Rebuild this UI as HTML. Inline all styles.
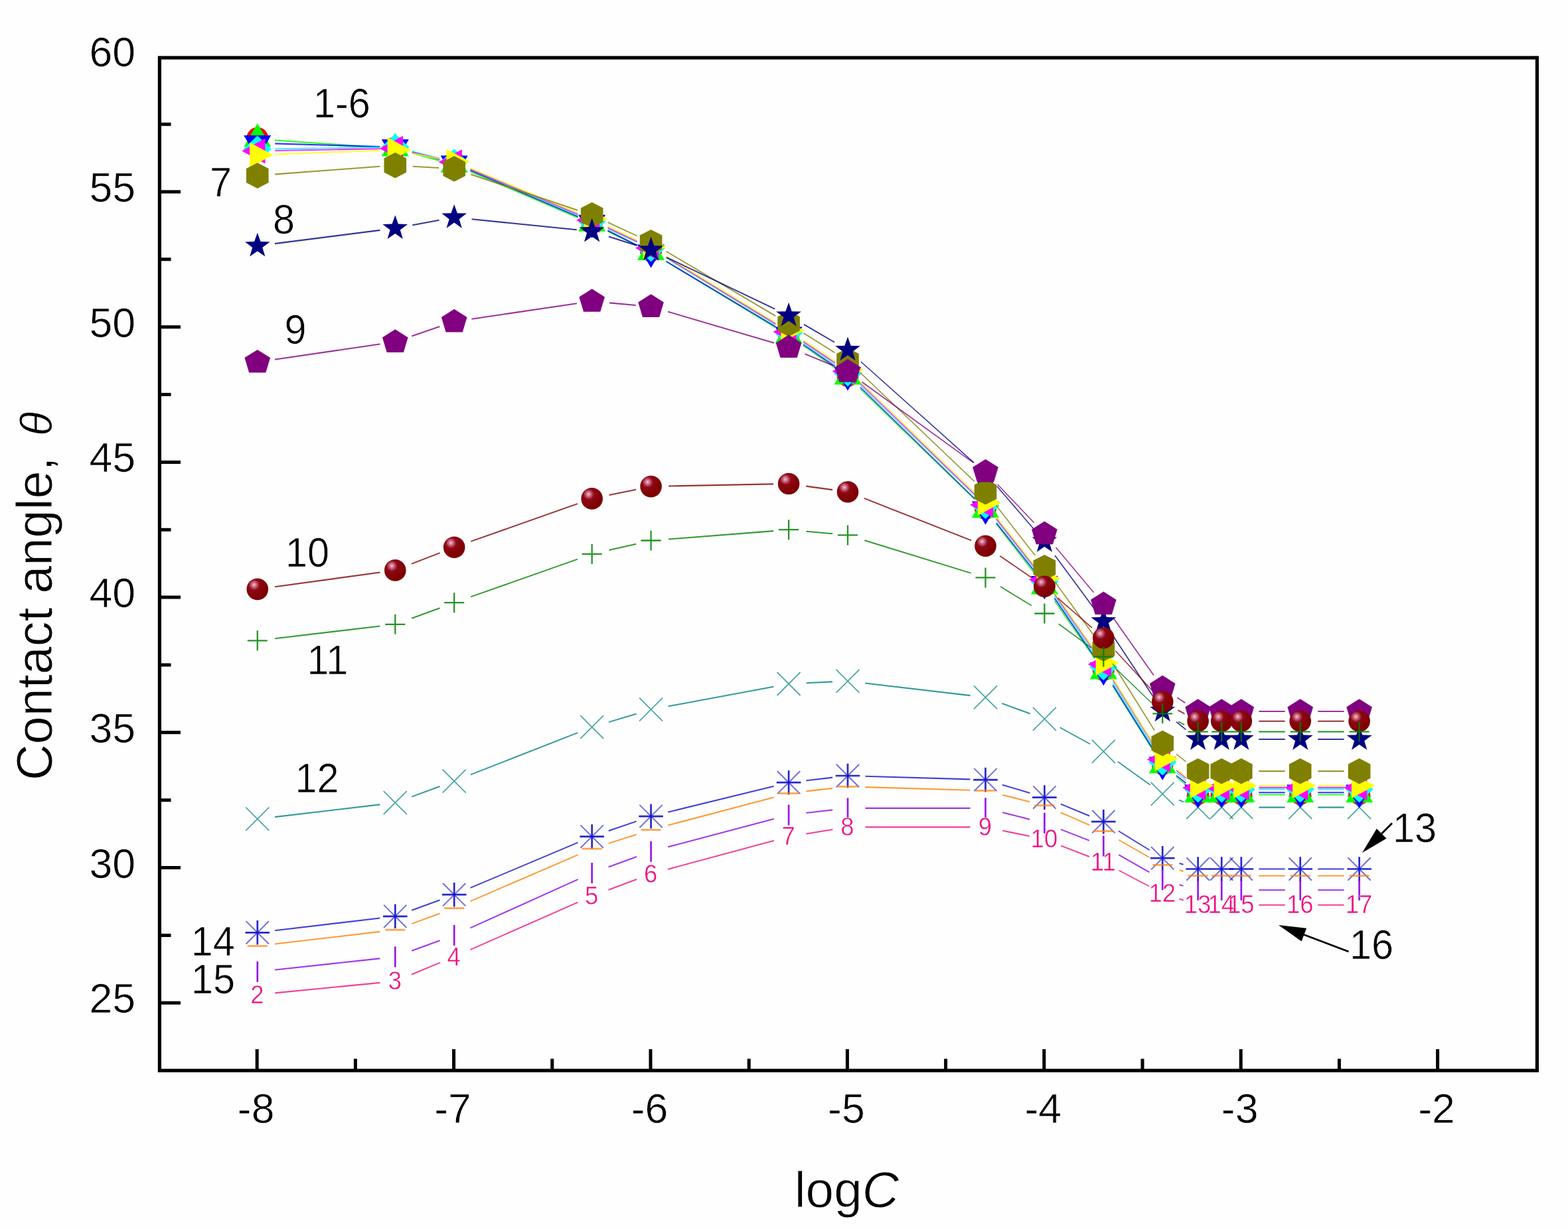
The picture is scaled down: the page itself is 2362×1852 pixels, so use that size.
<!DOCTYPE html>
<html lang="en"><head><meta charset="utf-8"><title>Contact angle vs logC</title>
<style>html,body{margin:0;padding:0;background:#fefefe}body{width:2362px;height:1852px;overflow:hidden}svg{display:block;filter:blur(0.6px)}text{font-family:"Liberation Sans",sans-serif}</style></head><body>
<svg width="2362" height="1852" viewBox="0 0 2362 1852">
<defs><radialGradient id="sg" cx="0.36" cy="0.31" r="0.6" fx="0.34" fy="0.29"><stop offset="0" stop-color="#f4c4d8"/><stop offset="0.2" stop-color="#c8607c"/><stop offset="0.42" stop-color="#8c0814"/><stop offset="1" stop-color="#7e0000"/></radialGradient></defs>
<rect width="2362" height="1852" fill="#fefefe"/>
<g id="axes" stroke="#000" fill="none">
<rect x="240.4" y="87.0" width="2075.0" height="1526.2" stroke-width="5.2"/>
<path d="M240.4,1511.2H272M240.4,1409.4H257.5M240.4,1307.5H272M240.4,1205.7H257.5M240.4,1103.8H272M240.4,1002.0H257.5M240.4,900.1H272M240.4,798.2H257.5M240.4,696.4H272M240.4,594.5H257.5M240.4,492.7H272M240.4,390.8H257.5M240.4,289.0H272M240.4,187.2H257.5M387.2,1613.2V1581M535.4,1613.2V1595.5M683.6,1613.2V1581M831.8,1613.2V1595.5M980.0,1613.2V1581M1128.2,1613.2V1595.5M1276.4,1613.2V1581M1424.6,1613.2V1595.5M1572.8,1613.2V1581M1721.0,1613.2V1595.5M1869.2,1613.2V1581M2017.4,1613.2V1595.5M2165.6,1613.2V1581" stroke-width="5"/>
</g>
<g id="ticklabels" font-size="62.6" stroke="#fefefe" stroke-width="0.7">
<text x="204" y="1526.2" text-anchor="end">25</text>
<text x="204" y="1322.5" text-anchor="end">30</text>
<text x="204" y="1118.8" text-anchor="end">35</text>
<text x="204" y="915.1" text-anchor="end">40</text>
<text x="204" y="711.4" text-anchor="end">45</text>
<text x="204" y="507.7" text-anchor="end">50</text>
<text x="204" y="304.0" text-anchor="end">55</text>
<text x="204" y="100.3" text-anchor="end">60</text>
<text x="385.7" y="1692" text-anchor="middle">-8</text>
<text x="682.1" y="1692" text-anchor="middle">-7</text>
<text x="978.5" y="1692" text-anchor="middle">-6</text>
<text x="1274.9" y="1692" text-anchor="middle">-5</text>
<text x="1571.3" y="1692" text-anchor="middle">-4</text>
<text x="1867.7" y="1692" text-anchor="middle">-3</text>
<text x="2164.1" y="1692" text-anchor="middle">-2</text>
</g>
<text id="xtitle" x="1275.3" y="1818.5" text-anchor="middle" font-size="76.5" stroke="#fefefe" stroke-width="0.9">log<tspan font-style="italic">C</tspan></text>
<text id="ytitle" transform="translate(77.5,1176) rotate(-90)" font-size="75.6" stroke="#fefefe" stroke-width="0.9">Contact angle, <tspan font-style="italic" font-size="67" dx="10.5">θ</tspan></text>
<g id="series">
<g id="s-x">
<g stroke="#008080" stroke-opacity="0.8" fill="none"><path d="M414.1,1231.1L572.4,1212.4" stroke-width="2.09"/><path d="M620.2,1200.6L662.6,1185.0" stroke-width="1.97"/><path d="M708.9,1167.4L870.3,1104.1" stroke-width="1.95"/><path d="M917.1,1088.1L958.6,1075.7" stroke-width="2.01"/><path d="M1006.7,1064.3L1165.5,1034.7" stroke-width="2.06"/><path d="M1214.6,1029.3L1254.0,1027.4" stroke-width="2.10"/><path d="M1303.3,1029.5L1461.6,1048.1" stroke-width="2.09"/><path d="M1509.4,1060.0L1551.8,1075.5" stroke-width="1.97"/><path d="M1596.6,1096.2L1642.2,1121.2" stroke-width="1.84"/><path d="M1683.8,1147.8L1732.6,1182.8" stroke-width="1.70"/><path d="M1776.0,1205.7L1783.1,1208.4" stroke-width="1.96"/><path d="M1896.3,1216.6L1935.7,1216.6" stroke-width="2.10"/><path d="M1985.2,1216.6L2024.6,1216.6" stroke-width="2.10"/></g>
<path d="M370.3,1216.7L405.3,1251.7M370.3,1251.7L405.3,1216.7" stroke="#008080" stroke-width="1.8" stroke-opacity="0.7" fill="none"/>
<path d="M577.8,1192.2L612.8,1227.2M577.8,1227.2L612.8,1192.2" stroke="#008080" stroke-width="1.8" stroke-opacity="0.7" fill="none"/>
<path d="M666.7,1159.6L701.7,1194.6M666.7,1194.6L701.7,1159.6" stroke="#008080" stroke-width="1.8" stroke-opacity="0.7" fill="none"/>
<path d="M874.2,1078.2L909.2,1113.2M874.2,1113.2L909.2,1078.2" stroke="#008080" stroke-width="1.8" stroke-opacity="0.7" fill="none"/>
<path d="M963.1,1051.7L998.1,1086.7M963.1,1086.7L998.1,1051.7" stroke="#008080" stroke-width="1.8" stroke-opacity="0.7" fill="none"/>
<path d="M1170.6,1013.0L1205.6,1048.0M1170.6,1048.0L1205.6,1013.0" stroke="#008080" stroke-width="1.8" stroke-opacity="0.7" fill="none"/>
<path d="M1259.5,1008.9L1294.5,1043.9M1259.5,1043.9L1294.5,1008.9" stroke="#008080" stroke-width="1.8" stroke-opacity="0.7" fill="none"/>
<path d="M1467.0,1033.3L1502.0,1068.3M1467.0,1068.3L1502.0,1033.3" stroke="#008080" stroke-width="1.8" stroke-opacity="0.7" fill="none"/>
<path d="M1555.9,1065.9L1590.9,1100.9M1555.9,1100.9L1590.9,1065.9" stroke="#008080" stroke-width="1.8" stroke-opacity="0.7" fill="none"/>
<path d="M1644.8,1114.8L1679.8,1149.8M1644.8,1149.8L1679.8,1114.8" stroke="#008080" stroke-width="1.8" stroke-opacity="0.7" fill="none"/>
<path d="M1733.7,1178.8L1768.7,1213.8M1733.7,1213.8L1768.7,1178.8" stroke="#008080" stroke-width="1.8" stroke-opacity="0.7" fill="none"/>
<path d="M1787.1,1199.1L1822.1,1234.1M1787.1,1234.1L1822.1,1199.1" stroke="#008080" stroke-width="1.8" stroke-opacity="0.7" fill="none"/>
<path d="M1822.7,1199.1L1857.7,1234.1M1822.7,1234.1L1857.7,1199.1" stroke="#008080" stroke-width="1.8" stroke-opacity="0.7" fill="none"/>
<path d="M1852.3,1199.1L1887.3,1234.1M1852.3,1234.1L1887.3,1199.1" stroke="#008080" stroke-width="1.8" stroke-opacity="0.7" fill="none"/>
<path d="M1941.2,1199.1L1976.2,1234.1M1941.2,1234.1L1976.2,1199.1" stroke="#008080" stroke-width="1.8" stroke-opacity="0.7" fill="none"/>
<path d="M2030.1,1199.1L2065.1,1234.1M2030.1,1234.1L2065.1,1199.1" stroke="#008080" stroke-width="1.8" stroke-opacity="0.7" fill="none"/>
</g>
<g id="s-red">
<circle cx="387.8" cy="208.3" r="16.5" fill="#ff0000"/>
<circle cx="595.3" cy="222.6" r="16.5" fill="#ff0000"/>
<circle cx="684.2" cy="245.0" r="16.5" fill="#ff0000"/>
<circle cx="891.7" cy="334.6" r="16.5" fill="#ff0000"/>
<circle cx="980.6" cy="378.2" r="16.5" fill="#ff0000"/>
<circle cx="1188.1" cy="502.9" r="16.5" fill="#ff0000"/>
<circle cx="1277.0" cy="566.4" r="16.5" fill="#ff0000"/>
<circle cx="1484.5" cy="766.5" r="16.5" fill="#ff0000"/>
<circle cx="1573.4" cy="881.8" r="16.5" fill="#ff0000"/>
<circle cx="1662.3" cy="1009.7" r="16.5" fill="#ff0000"/>
<circle cx="1751.2" cy="1151.5" r="16.5" fill="#ff0000"/>
<circle cx="1804.6" cy="1196.3" r="16.5" fill="#ff0000"/>
<circle cx="1840.2" cy="1196.3" r="16.5" fill="#ff0000"/>
<circle cx="1869.8" cy="1196.3" r="16.5" fill="#ff0000"/>
<circle cx="1958.7" cy="1196.3" r="16.5" fill="#ff0000"/>
<circle cx="2047.6" cy="1196.3" r="16.5" fill="#ff0000"/>
</g>
<g id="s-green">
<g stroke="#00ff00" stroke-opacity="0.8" fill="none"><path d="M414.2,211.4L572.3,222.2" stroke-width="2.10"/><path d="M620.8,230.8L662.0,242.2" stroke-width="2.02"/><path d="M708.6,258.7L870.5,328.0" stroke-width="1.93"/><path d="M915.5,348.7L959.9,370.2" stroke-width="1.89"/><path d="M1003.3,394.0L1168.4,493.8" stroke-width="1.80"/><path d="M1209.8,520.9L1258.1,554.5" stroke-width="1.72"/><path d="M1296.0,586.1L1468.0,752.5" stroke-width="1.51"/><path d="M1500.7,789.5L1559.4,865.6" stroke-width="1.66"/><path d="M1588.5,905.6L1649.2,992.8" stroke-width="1.72"/><path d="M1676.4,1034.2L1739.0,1134.0" stroke-width="1.78"/><path d="M1771.7,1170.4L1786.8,1182.9" stroke-width="1.62"/><path d="M1896.3,1197.5L1935.7,1197.5" stroke-width="2.10"/><path d="M1985.2,1197.5L2024.6,1197.5" stroke-width="2.10"/></g>
<polygon points="387.8,186.1 408.3,221.3 367.3,221.3" fill="#00ff00"/>
<polygon points="595.3,200.3 615.8,235.5 574.8,235.5" fill="#00ff00"/>
<polygon points="684.2,224.8 704.7,260.0 663.7,260.0" fill="#00ff00"/>
<polygon points="891.7,313.6 912.2,348.8 871.2,348.8" fill="#00ff00"/>
<polygon points="980.6,356.8 1001.1,392.0 960.1,392.0" fill="#00ff00"/>
<polygon points="1188.1,482.2 1208.6,517.4 1167.6,517.4" fill="#00ff00"/>
<polygon points="1277.0,544.2 1297.5,579.4 1256.5,579.4" fill="#00ff00"/>
<polygon points="1484.5,745.0 1505.0,780.2 1464.0,780.2" fill="#00ff00"/>
<polygon points="1573.4,860.3 1593.9,895.5 1552.9,895.5" fill="#00ff00"/>
<polygon points="1662.3,988.2 1682.8,1023.4 1641.8,1023.4" fill="#00ff00"/>
<polygon points="1751.2,1130.0 1771.7,1165.2 1730.7,1165.2" fill="#00ff00"/>
<polygon points="1804.6,1174.0 1825.1,1209.2 1784.1,1209.2" fill="#00ff00"/>
<polygon points="1840.2,1174.0 1860.7,1209.2 1819.7,1209.2" fill="#00ff00"/>
<polygon points="1869.8,1174.0 1890.3,1209.2 1849.3,1209.2" fill="#00ff00"/>
<polygon points="1958.7,1174.0 1979.2,1209.2 1938.2,1209.2" fill="#00ff00"/>
<polygon points="2047.6,1174.0 2068.1,1209.2 2027.1,1209.2" fill="#00ff00"/>
</g>
<g id="s-blue">
<g stroke="#0000ff" stroke-opacity="0.8" fill="none"><path d="M414.3,216.4L572.3,221.1" stroke-width="2.10"/><path d="M620.8,228.8L662.0,240.1" stroke-width="2.02"/><path d="M708.5,256.7L870.6,326.4" stroke-width="1.93"/><path d="M915.3,347.4L960.1,369.9" stroke-width="1.88"/><path d="M1003.4,393.8L1168.3,492.3" stroke-width="1.80"/><path d="M1209.9,519.1L1258.0,552.2" stroke-width="1.73"/><path d="M1296.0,583.7L1468.0,751.2" stroke-width="1.50"/><path d="M1500.9,788.1L1559.1,861.7" stroke-width="1.65"/><path d="M1588.4,901.6L1649.3,990.7" stroke-width="1.73"/><path d="M1676.3,1032.2L1739.1,1132.8" stroke-width="1.78"/><path d="M1772.1,1168.7L1786.5,1180.0" stroke-width="1.65"/><path d="M1896.3,1194.2L1935.7,1194.2" stroke-width="2.10"/><path d="M1985.2,1194.2L2024.6,1194.2" stroke-width="2.10"/></g>
<polygon points="387.8,239.2 408.3,204.0 367.3,204.0" fill="#0000ff"/>
<polygon points="595.3,245.3 615.8,210.1 574.8,210.1" fill="#0000ff"/>
<polygon points="684.2,269.7 704.7,234.5 663.7,234.5" fill="#0000ff"/>
<polygon points="891.7,358.9 912.2,323.7 871.2,323.7" fill="#0000ff"/>
<polygon points="980.6,403.8 1001.1,368.6 960.1,368.6" fill="#0000ff"/>
<polygon points="1188.1,527.6 1208.6,492.4 1167.6,492.4" fill="#0000ff"/>
<polygon points="1277.0,588.7 1297.5,553.5 1256.5,553.5" fill="#0000ff"/>
<polygon points="1484.5,790.8 1505.0,755.6 1464.0,755.6" fill="#0000ff"/>
<polygon points="1573.4,903.2 1593.9,868.0 1552.9,868.0" fill="#0000ff"/>
<polygon points="1662.3,1033.2 1682.8,998.0 1641.8,998.0" fill="#0000ff"/>
<polygon points="1751.2,1175.8 1771.7,1140.6 1730.7,1140.6" fill="#0000ff"/>
<polygon points="1804.6,1217.7 1825.1,1182.5 1784.1,1182.5" fill="#0000ff"/>
<polygon points="1840.2,1217.7 1860.7,1182.5 1819.7,1182.5" fill="#0000ff"/>
<polygon points="1869.8,1217.7 1890.3,1182.5 1849.3,1182.5" fill="#0000ff"/>
<polygon points="1958.7,1217.7 1979.2,1182.5 1938.2,1182.5" fill="#0000ff"/>
<polygon points="2047.6,1217.7 2068.1,1182.5 2027.1,1182.5" fill="#0000ff"/>
</g>
<g id="s-cyan">
<g stroke="#00ffff" stroke-opacity="0.8" fill="none"><path d="M414.3,224.3L572.3,222.1" stroke-width="2.10"/><path d="M621.0,228.3L661.9,238.6" stroke-width="2.04"/><path d="M708.5,254.7L870.6,324.7" stroke-width="1.93"/><path d="M915.8,344.9L959.7,365.0" stroke-width="1.91"/><path d="M1003.2,388.4L1168.5,489.6" stroke-width="1.79"/><path d="M1210.0,516.6L1258.0,549.4" stroke-width="1.73"/><path d="M1296.1,580.7L1467.9,746.0" stroke-width="1.51"/><path d="M1500.7,782.9L1559.3,858.3" stroke-width="1.66"/><path d="M1588.5,898.3L1649.2,986.3" stroke-width="1.73"/><path d="M1676.3,1027.7L1739.1,1129.1" stroke-width="1.78"/><path d="M1772.3,1164.7L1786.3,1175.4" stroke-width="1.67"/><path d="M1896.3,1189.4L1935.7,1189.4" stroke-width="2.10"/><path d="M1985.2,1189.4L2024.6,1189.4" stroke-width="2.10"/></g>
<polygon points="387.8,204.6 408.8,224.6 387.8,244.6 366.8,224.6" fill="#00ffff"/>
<polygon points="595.3,201.8 616.3,221.8 595.3,241.8 574.3,221.8" fill="#00ffff"/>
<polygon points="684.2,224.2 705.2,244.2 684.2,264.2 663.2,244.2" fill="#00ffff"/>
<polygon points="891.7,313.8 912.7,333.8 891.7,353.8 870.7,333.8" fill="#00ffff"/>
<polygon points="980.6,354.6 1001.6,374.6 980.6,394.6 959.6,374.6" fill="#00ffff"/>
<polygon points="1188.1,481.7 1209.1,501.7 1188.1,521.7 1167.1,501.7" fill="#00ffff"/>
<polygon points="1277.0,542.4 1298.0,562.4 1277.0,582.4 1256.0,562.4" fill="#00ffff"/>
<polygon points="1484.5,742.0 1505.5,762.0 1484.5,782.0 1463.5,762.0" fill="#00ffff"/>
<polygon points="1573.4,856.5 1594.4,876.5 1573.4,896.5 1552.4,876.5" fill="#00ffff"/>
<polygon points="1662.3,985.2 1683.3,1005.2 1662.3,1025.2 1641.3,1005.2" fill="#00ffff"/>
<polygon points="1751.2,1128.6 1772.2,1148.6 1751.2,1168.6 1730.2,1148.6" fill="#00ffff"/>
<polygon points="1804.6,1169.4 1825.6,1189.4 1804.6,1209.4 1783.6,1189.4" fill="#00ffff"/>
<polygon points="1840.2,1169.4 1861.2,1189.4 1840.2,1209.4 1819.2,1189.4" fill="#00ffff"/>
<polygon points="1869.8,1169.4 1890.8,1189.4 1869.8,1209.4 1848.8,1189.4" fill="#00ffff"/>
<polygon points="1958.7,1169.4 1979.7,1189.4 1958.7,1209.4 1937.7,1189.4" fill="#00ffff"/>
<polygon points="2047.6,1169.4 2068.6,1189.4 2047.6,1209.4 2026.6,1189.4" fill="#00ffff"/>
</g>
<g id="s-magenta">
<g stroke="#ff00ff" stroke-opacity="0.8" fill="none"><path d="M414.3,227.0L572.3,224.2" stroke-width="2.10"/><path d="M621.1,229.7L661.8,239.1" stroke-width="2.05"/><path d="M708.6,254.5L870.5,322.8" stroke-width="1.93"/><path d="M915.6,343.1L959.8,363.9" stroke-width="1.90"/><path d="M1003.2,387.5L1168.4,488.1" stroke-width="1.79"/><path d="M1210.1,514.8L1257.9,546.7" stroke-width="1.75"/><path d="M1296.0,578.0L1468.0,744.8" stroke-width="1.51"/><path d="M1500.9,781.6L1559.2,855.6" stroke-width="1.65"/><path d="M1588.6,895.4L1649.2,982.3" stroke-width="1.72"/><path d="M1676.3,1023.7L1739.1,1125.0" stroke-width="1.78"/><path d="M1772.0,1161.0L1786.6,1172.6" stroke-width="1.64"/><path d="M1896.3,1186.9L1935.7,1186.9" stroke-width="2.10"/><path d="M1985.2,1186.9L2024.6,1186.9" stroke-width="2.10"/></g>
<polygon points="364.3,227.5 399.5,208.5 399.5,246.5" fill="#ff00ff"/>
<polygon points="571.8,223.8 607.0,204.8 607.0,242.8" fill="#ff00ff"/>
<polygon points="660.7,244.2 695.9,225.2 695.9,263.2" fill="#ff00ff"/>
<polygon points="868.2,331.8 903.4,312.8 903.4,350.8" fill="#ff00ff"/>
<polygon points="957.1,373.7 992.3,354.7 992.3,392.7" fill="#ff00ff"/>
<polygon points="1164.6,500.0 1199.8,481.0 1199.8,519.0" fill="#ff00ff"/>
<polygon points="1253.5,559.5 1288.7,540.5 1288.7,578.5" fill="#ff00ff"/>
<polygon points="1461.0,760.8 1496.2,741.8 1496.2,779.8" fill="#ff00ff"/>
<polygon points="1549.9,873.6 1585.1,854.6 1585.1,892.6" fill="#ff00ff"/>
<polygon points="1638.8,1001.1 1674.0,982.1 1674.0,1020.1" fill="#ff00ff"/>
<polygon points="1727.7,1144.5 1762.9,1125.5 1762.9,1163.5" fill="#ff00ff"/>
<polygon points="1781.1,1186.9 1816.3,1167.9 1816.3,1205.9" fill="#ff00ff"/>
<polygon points="1816.7,1186.9 1851.9,1167.9 1851.9,1205.9" fill="#ff00ff"/>
<polygon points="1846.3,1186.9 1881.5,1167.9 1881.5,1205.9" fill="#ff00ff"/>
<polygon points="1935.2,1186.9 1970.4,1167.9 1970.4,1205.9" fill="#ff00ff"/>
<polygon points="2024.1,1186.9 2059.3,1167.9 2059.3,1205.9" fill="#ff00ff"/>
</g>
<g id="s-yellow">
<g stroke="#ffff00" stroke-opacity="0.8" fill="none"><path d="M414.3,232.6L572.3,226.7" stroke-width="2.10"/><path d="M621.3,231.0L661.6,238.9" stroke-width="2.06"/><path d="M708.7,253.6L870.4,320.9" stroke-width="1.94"/><path d="M915.6,341.1L959.8,362.2" stroke-width="1.90"/><path d="M1003.3,385.9L1168.4,486.1" stroke-width="1.80"/><path d="M1210.2,512.7L1257.8,544.3" stroke-width="1.75"/><path d="M1296.0,575.5L1468.0,741.9" stroke-width="1.51"/><path d="M1500.8,778.8L1559.2,853.5" stroke-width="1.65"/><path d="M1588.6,893.3L1649.2,980.2" stroke-width="1.72"/><path d="M1676.2,1021.7L1739.2,1123.7" stroke-width="1.79"/><path d="M1772.3,1159.4L1786.3,1170.1" stroke-width="1.67"/><path d="M1896.3,1184.1L1935.7,1184.1" stroke-width="2.10"/><path d="M1985.2,1184.1L2024.6,1184.1" stroke-width="2.10"/></g>
<polygon points="411.3,233.6 376.1,214.6 376.1,252.6" fill="#ffff00"/>
<polygon points="618.8,225.9 583.6,206.9 583.6,244.9" fill="#ffff00"/>
<polygon points="707.7,243.4 672.5,224.4 672.5,262.4" fill="#ffff00"/>
<polygon points="915.2,329.7 880.0,310.7 880.0,348.7" fill="#ffff00"/>
<polygon points="1004.1,372.1 968.9,353.1 968.9,391.1" fill="#ffff00"/>
<polygon points="1211.6,498.0 1176.4,479.0 1176.4,517.0" fill="#ffff00"/>
<polygon points="1300.5,557.1 1265.3,538.1 1265.3,576.1" fill="#ffff00"/>
<polygon points="1508.0,757.9 1472.8,738.9 1472.8,776.9" fill="#ffff00"/>
<polygon points="1596.9,871.6 1561.7,852.6 1561.7,890.6" fill="#ffff00"/>
<polygon points="1685.8,999.1 1650.6,980.1 1650.6,1018.1" fill="#ffff00"/>
<polygon points="1774.7,1143.3 1739.5,1124.3 1739.5,1162.3" fill="#ffff00"/>
<polygon points="1828.1,1184.1 1792.9,1165.1 1792.9,1203.1" fill="#ffff00"/>
<polygon points="1863.7,1184.1 1828.5,1165.1 1828.5,1203.1" fill="#ffff00"/>
<polygon points="1893.3,1184.1 1858.1,1165.1 1858.1,1203.1" fill="#ffff00"/>
<polygon points="1982.2,1184.1 1947.0,1165.1 1947.0,1203.1" fill="#ffff00"/>
<polygon points="2071.1,1184.1 2035.9,1165.1 2035.9,1203.1" fill="#ffff00"/>
</g>
<g id="s-hex">
<g stroke="#808000" stroke-opacity="0.8" fill="none"><path d="M414.2,262.6L572.3,250.8" stroke-width="2.09"/><path d="M621.7,250.7L661.2,253.0" stroke-width="2.10"/><path d="M709.3,262.8L869.9,316.7" stroke-width="1.99"/><path d="M915.7,335.2L959.7,355.5" stroke-width="1.91"/><path d="M1003.4,378.7L1168.3,476.1" stroke-width="1.81"/><path d="M1210.5,501.9L1257.5,531.4" stroke-width="1.78"/><path d="M1296.2,561.9L1467.8,725.4" stroke-width="1.52"/><path d="M1500.8,762.1L1559.3,837.1" stroke-width="1.66"/><path d="M1589.0,876.7L1648.8,958.9" stroke-width="1.70"/><path d="M1676.3,1000.0L1739.1,1100.6" stroke-width="1.78"/><path d="M1772.1,1136.5L1786.5,1147.8" stroke-width="1.65"/><path d="M1896.3,1162.1L1935.7,1162.1" stroke-width="2.10"/><path d="M1985.2,1162.1L2024.6,1162.1" stroke-width="2.10"/></g>
<polygon points="387.8,245.3 404.6,253.9 404.6,275.2 387.8,283.9 371.0,275.2 371.0,253.9" fill="#808000"/>
<polygon points="595.3,229.8 612.1,238.4 612.1,259.7 595.3,268.4 578.5,259.7 578.5,238.4" fill="#808000"/>
<polygon points="684.2,235.1 701.0,243.7 701.0,265.0 684.2,273.7 667.4,265.0 667.4,243.7" fill="#808000"/>
<polygon points="891.7,304.7 908.5,313.4 908.5,334.7 891.7,343.3 874.9,334.7 874.9,313.4" fill="#808000"/>
<polygon points="980.6,345.9 997.4,354.5 997.4,375.8 980.6,384.5 963.8,375.8 963.8,354.5" fill="#808000"/>
<polygon points="1188.1,468.5 1204.9,477.2 1204.9,498.5 1188.1,507.1 1171.3,498.5 1171.3,477.2" fill="#808000"/>
<polygon points="1277.0,524.3 1293.8,533.0 1293.8,554.3 1277.0,562.9 1260.2,554.3 1260.2,533.0" fill="#808000"/>
<polygon points="1484.5,721.9 1501.3,730.6 1501.3,751.9 1484.5,760.5 1467.7,751.9 1467.7,730.6" fill="#808000"/>
<polygon points="1573.4,836.0 1590.2,844.6 1590.2,865.9 1573.4,874.6 1556.6,865.9 1556.6,844.6" fill="#808000"/>
<polygon points="1662.3,958.2 1679.1,966.9 1679.1,988.2 1662.3,996.8 1645.5,988.2 1645.5,966.9" fill="#808000"/>
<polygon points="1751.2,1100.8 1768.0,1109.4 1768.0,1130.7 1751.2,1139.4 1734.4,1130.7 1734.4,1109.4" fill="#808000"/>
<polygon points="1804.6,1142.8 1821.4,1151.4 1821.4,1172.7 1804.6,1181.4 1787.8,1172.7 1787.8,1151.4" fill="#808000"/>
<polygon points="1840.2,1142.8 1857.0,1151.4 1857.0,1172.7 1840.2,1181.4 1823.4,1172.7 1823.4,1151.4" fill="#808000"/>
<polygon points="1869.8,1142.8 1886.6,1151.4 1886.6,1172.7 1869.8,1181.4 1853.0,1172.7 1853.0,1151.4" fill="#808000"/>
<polygon points="1958.7,1142.8 1975.5,1151.4 1975.5,1172.7 1958.7,1181.4 1941.9,1172.7 1941.9,1151.4" fill="#808000"/>
<polygon points="2047.6,1142.8 2064.4,1151.4 2064.4,1172.7 2047.6,1181.4 2030.8,1172.7 2030.8,1151.4" fill="#808000"/>
</g>
<g id="s-star">
<g stroke="#000080" stroke-opacity="0.8" fill="none"><path d="M414.1,367.1L572.5,346.9" stroke-width="2.08"/><path d="M621.3,339.2L661.6,331.8" stroke-width="2.07"/><path d="M710.6,330.3L868.8,346.2" stroke-width="2.09"/><path d="M916.9,356.5L958.7,369.7" stroke-width="2.00"/><path d="M1004.5,388.0L1167.3,465.7" stroke-width="1.90"/><path d="M1211.0,488.9L1257.1,515.8" stroke-width="1.82"/><path d="M1296.8,545.0L1467.3,697.4" stroke-width="1.57"/><path d="M1501.8,732.8L1558.4,798.4" stroke-width="1.59"/><path d="M1589.1,837.1L1648.7,917.8" stroke-width="1.69"/><path d="M1676.9,958.5L1738.6,1052.0" stroke-width="1.75"/><path d="M1771.9,1087.8L1786.6,1099.6" stroke-width="1.64"/><path d="M1896.3,1114.0L1935.7,1114.0" stroke-width="2.10"/><path d="M1985.2,1114.0L2024.6,1114.0" stroke-width="2.10"/></g>
<polygon points="387.8,350.7 392.5,364.1 406.6,364.4 395.3,372.9 399.4,386.5 387.8,378.4 376.2,386.5 380.3,372.9 369.0,364.4 383.1,364.1" fill="#000080"/>
<polygon points="595.3,324.2 599.9,337.6 614.1,337.9 602.8,346.4 606.9,360.0 595.3,351.9 583.6,360.0 587.7,346.4 576.4,337.9 590.6,337.6" fill="#000080"/>
<polygon points="684.2,307.9 688.9,321.3 703.0,321.6 691.7,330.2 695.8,343.7 684.2,335.6 672.6,343.7 676.7,330.2 665.4,321.6 679.5,321.3" fill="#000080"/>
<polygon points="891.7,328.7 896.3,342.1 910.5,342.4 899.2,350.9 903.3,364.5 891.7,356.4 880.0,364.5 884.1,350.9 872.8,342.4 887.0,342.1" fill="#000080"/>
<polygon points="980.6,356.8 985.3,370.2 999.4,370.5 988.1,379.0 992.2,392.6 980.6,384.5 969.0,392.6 973.1,379.0 961.8,370.5 975.9,370.2" fill="#000080"/>
<polygon points="1188.1,455.8 1192.7,469.2 1206.9,469.5 1195.6,478.0 1199.7,491.6 1188.1,483.5 1176.4,491.6 1180.5,478.0 1169.2,469.5 1183.4,469.2" fill="#000080"/>
<polygon points="1277.0,507.5 1281.7,520.9 1295.8,521.2 1284.5,529.8 1288.6,543.3 1277.0,535.2 1265.4,543.3 1269.5,529.8 1258.2,521.2 1272.3,520.9" fill="#000080"/>
<polygon points="1484.5,692.9 1489.1,706.3 1503.3,706.6 1492.0,715.1 1496.1,728.7 1484.5,720.6 1472.8,728.7 1476.9,715.1 1465.6,706.6 1479.8,706.3" fill="#000080"/>
<polygon points="1573.4,796.0 1578.1,809.4 1592.2,809.6 1580.9,818.2 1585.0,831.8 1573.4,823.7 1561.8,831.8 1565.9,818.2 1554.6,809.6 1568.7,809.4" fill="#000080"/>
<polygon points="1662.3,916.6 1667.0,930.0 1681.2,930.2 1669.9,938.8 1674.0,952.4 1662.3,944.3 1650.7,952.4 1654.8,938.8 1643.5,930.2 1657.7,930.0" fill="#000080"/>
<polygon points="1751.2,1051.4 1755.9,1064.8 1770.1,1065.1 1758.8,1073.7 1762.9,1087.2 1751.2,1079.1 1739.6,1087.2 1743.7,1073.7 1732.4,1065.1 1746.6,1064.8" fill="#000080"/>
<polygon points="1804.6,1094.2 1809.2,1107.6 1823.4,1107.9 1812.1,1116.4 1816.2,1130.0 1804.6,1121.9 1793.0,1130.0 1797.1,1116.4 1785.8,1107.9 1799.9,1107.6" fill="#000080"/>
<polygon points="1840.2,1094.2 1844.8,1107.6 1859.0,1107.9 1847.7,1116.4 1851.8,1130.0 1840.2,1121.9 1828.5,1130.0 1832.6,1116.4 1821.3,1107.9 1835.5,1107.6" fill="#000080"/>
<polygon points="1869.8,1094.2 1874.5,1107.6 1888.6,1107.9 1877.3,1116.4 1881.4,1130.0 1869.8,1121.9 1858.2,1130.0 1862.3,1116.4 1851.0,1107.9 1865.1,1107.6" fill="#000080"/>
<polygon points="1958.7,1094.2 1963.4,1107.6 1977.6,1107.9 1966.3,1116.4 1970.4,1130.0 1958.7,1121.9 1947.1,1130.0 1951.2,1116.4 1939.9,1107.9 1954.1,1107.6" fill="#000080"/>
<polygon points="2047.6,1094.2 2052.3,1107.6 2066.5,1107.9 2055.2,1116.4 2059.3,1130.0 2047.6,1121.9 2036.0,1130.0 2040.1,1116.4 2028.8,1107.9 2043.0,1107.6" fill="#000080"/>
</g>
<g id="s-pent">
<g stroke="#800080" stroke-opacity="0.8" fill="none"><path d="M414.0,541.8L572.5,518.5" stroke-width="2.08"/><path d="M620.3,506.5L662.4,492.0" stroke-width="1.99"/><path d="M710.4,480.7L868.9,457.3" stroke-width="2.08"/><path d="M918.1,456.4L957.7,460.0" stroke-width="2.09"/><path d="M1006.0,469.6L1166.0,516.8" stroke-width="2.01"/><path d="M1212.6,533.4L1255.7,551.2" stroke-width="1.94"/><path d="M1298.4,575.5L1465.9,697.1" stroke-width="1.70"/><path d="M1502.7,729.9L1557.6,787.7" stroke-width="1.52"/><path d="M1590.4,824.7L1647.5,892.7" stroke-width="1.61"/><path d="M1677.6,932.0L1738.0,1017.8" stroke-width="1.72"/><path d="M1773.3,1051.2L1785.4,1059.3" stroke-width="1.75"/><path d="M1896.3,1072.0L1935.7,1072.0" stroke-width="2.10"/><path d="M1985.2,1072.0L2024.6,1072.0" stroke-width="2.10"/></g>
<polygon points="387.8,526.9 407.1,539.1 400.4,561.5 375.2,561.5 368.5,539.1" fill="#800080"/>
<polygon points="595.3,496.3 614.6,508.5 607.9,530.9 582.7,530.9 576.0,508.5" fill="#800080"/>
<polygon points="684.2,465.8 703.5,478.0 696.8,500.4 671.6,500.4 664.9,478.0" fill="#800080"/>
<polygon points="891.7,435.2 911.0,447.4 904.3,469.8 879.1,469.8 872.4,447.4" fill="#800080"/>
<polygon points="980.6,443.3 999.9,455.5 993.2,477.9 968.0,477.9 961.3,455.5" fill="#800080"/>
<polygon points="1188.1,504.5 1207.4,516.7 1200.7,539.1 1175.5,539.1 1168.8,516.7" fill="#800080"/>
<polygon points="1277.0,541.1 1296.3,553.3 1289.6,575.7 1264.4,575.7 1257.7,553.3" fill="#800080"/>
<polygon points="1484.5,691.9 1503.8,704.1 1497.1,726.5 1471.9,726.5 1465.2,704.1" fill="#800080"/>
<polygon points="1573.4,785.6 1592.7,797.8 1586.0,820.2 1560.8,820.2 1554.1,797.8" fill="#800080"/>
<polygon points="1662.3,891.5 1681.6,903.7 1674.9,926.1 1649.7,926.1 1643.0,903.7" fill="#800080"/>
<polygon points="1751.2,1017.8 1770.5,1030.0 1763.8,1052.4 1738.6,1052.4 1731.9,1030.0" fill="#800080"/>
<polygon points="1804.6,1053.2 1823.9,1065.4 1817.2,1087.8 1792.0,1087.8 1785.3,1065.4" fill="#800080"/>
<polygon points="1840.2,1053.2 1859.5,1065.4 1852.8,1087.8 1827.6,1087.8 1820.9,1065.4" fill="#800080"/>
<polygon points="1869.8,1053.2 1889.1,1065.4 1882.4,1087.8 1857.2,1087.8 1850.5,1065.4" fill="#800080"/>
<polygon points="1958.7,1053.2 1978.0,1065.4 1971.3,1087.8 1946.1,1087.8 1939.4,1065.4" fill="#800080"/>
<polygon points="2047.6,1053.2 2066.9,1065.4 2060.2,1087.8 2035.0,1087.8 2028.3,1065.4" fill="#800080"/>
</g>
<g id="s-sphere">
<g stroke="#800000" stroke-opacity="0.8" fill="none"><path d="M414.1,884.3L572.5,862.5" stroke-width="2.08"/><path d="M620.0,849.7L662.8,833.1" stroke-width="1.96"/><path d="M709.2,815.9L870.0,759.1" stroke-width="1.98"/><path d="M917.6,746.0L958.1,737.7" stroke-width="2.06"/><path d="M1007.1,732.5L1165.1,729.4" stroke-width="2.10"/><path d="M1214.3,732.6L1254.2,738.1" stroke-width="2.08"/><path d="M1301.7,750.9L1463.1,814.3" stroke-width="1.95"/><path d="M1506.3,837.7L1554.4,870.8" stroke-width="1.73"/><path d="M1593.4,901.2L1645.0,946.1" stroke-width="1.58"/><path d="M1680.3,980.7L1735.6,1040.5" stroke-width="1.54"/><path d="M1774.5,1070.1L1784.4,1075.6" stroke-width="1.84"/><path d="M1896.3,1086.7L1935.7,1086.7" stroke-width="2.10"/><path d="M1985.2,1086.7L2024.6,1086.7" stroke-width="2.10"/></g>
<circle cx="387.8" cy="887.9" r="16.3" fill="url(#sg)"/>
<circle cx="595.3" cy="859.4" r="16.3" fill="url(#sg)"/>
<circle cx="684.2" cy="824.7" r="16.3" fill="url(#sg)"/>
<circle cx="891.7" cy="751.4" r="16.3" fill="url(#sg)"/>
<circle cx="980.6" cy="733.1" r="16.3" fill="url(#sg)"/>
<circle cx="1188.1" cy="729.0" r="16.3" fill="url(#sg)"/>
<circle cx="1277.0" cy="741.2" r="16.3" fill="url(#sg)"/>
<circle cx="1484.5" cy="822.7" r="16.3" fill="url(#sg)"/>
<circle cx="1573.4" cy="883.8" r="16.3" fill="url(#sg)"/>
<circle cx="1662.3" cy="961.2" r="16.3" fill="url(#sg)"/>
<circle cx="1751.2" cy="1057.4" r="16.3" fill="url(#sg)"/>
<circle cx="1804.6" cy="1086.7" r="16.3" fill="url(#sg)"/>
<circle cx="1840.2" cy="1086.7" r="16.3" fill="url(#sg)"/>
<circle cx="1869.8" cy="1086.7" r="16.3" fill="url(#sg)"/>
<circle cx="1958.7" cy="1086.7" r="16.3" fill="url(#sg)"/>
<circle cx="2047.6" cy="1086.7" r="16.3" fill="url(#sg)"/>
</g>
<g id="s-plus">
<g stroke="#008000" stroke-opacity="0.8" fill="none"><path d="M414.1,962.2L572.4,943.5" stroke-width="2.09"/><path d="M620.2,931.7L662.6,916.2" stroke-width="1.97"/><path d="M709.2,899.4L870.0,842.6" stroke-width="1.98"/><path d="M917.5,829.0L958.2,819.7" stroke-width="2.05"/><path d="M1007.0,812.5L1165.2,800.1" stroke-width="2.09"/><path d="M1214.5,800.7L1254.1,804.3" stroke-width="2.09"/><path d="M1302.3,814.2L1462.5,863.6" stroke-width="2.01"/><path d="M1507.1,884.1L1553.8,912.6" stroke-width="1.79"/><path d="M1594.8,940.2L1643.8,976.1" stroke-width="1.69"/><path d="M1681.4,1008.1L1734.7,1059.3" stroke-width="1.51"/><path d="M1774.8,1087.4L1784.1,1092.1" stroke-width="1.87"/><path d="M1896.3,1102.6L1935.7,1102.6" stroke-width="2.10"/><path d="M1985.2,1102.6L2024.6,1102.6" stroke-width="2.10"/></g>
<path d="M372.8,965.3H402.8M387.8,950.3V980.3" stroke="#008000" stroke-width="2.3" stroke-opacity="0.85" fill="none"/>
<path d="M580.3,940.8H610.3M595.3,925.8V955.8" stroke="#008000" stroke-width="2.3" stroke-opacity="0.85" fill="none"/>
<path d="M669.2,908.2H699.2M684.2,893.2V923.2" stroke="#008000" stroke-width="2.3" stroke-opacity="0.85" fill="none"/>
<path d="M876.7,834.9H906.7M891.7,819.9V849.9" stroke="#008000" stroke-width="2.3" stroke-opacity="0.85" fill="none"/>
<path d="M965.6,814.5H995.6M980.6,799.5V829.5" stroke="#008000" stroke-width="2.3" stroke-opacity="0.85" fill="none"/>
<path d="M1173.1,798.2H1203.1M1188.1,783.2V813.2" stroke="#008000" stroke-width="2.3" stroke-opacity="0.85" fill="none"/>
<path d="M1262.0,806.4H1292.0M1277.0,791.4V821.4" stroke="#008000" stroke-width="2.3" stroke-opacity="0.85" fill="none"/>
<path d="M1469.5,870.4H1499.5M1484.5,855.4V885.4" stroke="#008000" stroke-width="2.3" stroke-opacity="0.85" fill="none"/>
<path d="M1558.4,924.5H1588.4M1573.4,909.5V939.5" stroke="#008000" stroke-width="2.3" stroke-opacity="0.85" fill="none"/>
<path d="M1647.3,989.7H1677.3M1662.3,974.7V1004.7" stroke="#008000" stroke-width="2.3" stroke-opacity="0.85" fill="none"/>
<path d="M1736.2,1075.3H1766.2M1751.2,1060.3V1090.3" stroke="#008000" stroke-width="2.3" stroke-opacity="0.85" fill="none"/>
<path d="M1789.6,1102.6H1819.6M1804.6,1087.6V1117.6" stroke="#008000" stroke-width="2.3" stroke-opacity="0.85" fill="none"/>
<path d="M1825.2,1102.6H1855.2M1840.2,1087.6V1117.6" stroke="#008000" stroke-width="2.3" stroke-opacity="0.85" fill="none"/>
<path d="M1854.8,1102.6H1884.8M1869.8,1087.6V1117.6" stroke="#008000" stroke-width="2.3" stroke-opacity="0.85" fill="none"/>
<path d="M1943.7,1102.6H1973.7M1958.7,1087.6V1117.6" stroke="#008000" stroke-width="2.3" stroke-opacity="0.85" fill="none"/>
<path d="M2032.6,1102.6H2062.6M2047.6,1087.6V1117.6" stroke="#008000" stroke-width="2.3" stroke-opacity="0.85" fill="none"/>
</g>
<g id="s-ast">
<g stroke="#1010c8" stroke-opacity="0.8" fill="none"><path d="M414.1,1402.2L572.4,1383.5" stroke-width="2.09"/><path d="M620.2,1371.7L662.6,1356.2" stroke-width="1.97"/><path d="M708.6,1337.9L870.5,1269.6" stroke-width="1.93"/><path d="M916.7,1252.0L958.8,1237.6" stroke-width="1.99"/><path d="M1006.3,1223.8L1165.7,1184.7" stroke-width="2.04"/><path d="M1214.4,1176.2L1254.1,1171.6" stroke-width="2.09"/><path d="M1303.5,1169.8L1461.5,1174.4" stroke-width="2.10"/><path d="M1509.9,1182.7L1551.4,1195.0" stroke-width="2.01"/><path d="M1597.9,1211.7L1641.1,1229.5" stroke-width="1.94"/><path d="M1684.9,1252.2L1731.7,1281.1" stroke-width="1.79"/><path d="M1776.6,1301.0L1782.6,1302.8" stroke-width="2.01"/><path d="M1896.3,1309.5L1935.7,1309.5" stroke-width="2.10"/><path d="M1985.2,1309.5L2024.6,1309.5" stroke-width="2.10"/></g>
<path d="M370.6,1388.1L405.0,1422.5M370.6,1422.5L405.0,1388.1" stroke="#1010c8" stroke-width="2.0" stroke-opacity="0.6" fill="none"/><path d="M369.5,1405.3H406.1M387.8,1387.0V1423.6" stroke="#1010c8" stroke-width="2.7" stroke-opacity="0.9" fill="none"/>
<path d="M578.1,1363.6L612.5,1398.0M578.1,1398.0L612.5,1363.6" stroke="#1010c8" stroke-width="2.0" stroke-opacity="0.6" fill="none"/><path d="M577.0,1380.8H613.6M595.3,1362.5V1399.1" stroke="#1010c8" stroke-width="2.7" stroke-opacity="0.9" fill="none"/>
<path d="M667.0,1331.0L701.4,1365.4M667.0,1365.4L701.4,1331.0" stroke="#1010c8" stroke-width="2.0" stroke-opacity="0.6" fill="none"/><path d="M665.9,1348.2H702.5M684.2,1329.9V1366.5" stroke="#1010c8" stroke-width="2.7" stroke-opacity="0.9" fill="none"/>
<path d="M874.5,1243.4L908.9,1277.8M874.5,1277.8L908.9,1243.4" stroke="#1010c8" stroke-width="2.0" stroke-opacity="0.6" fill="none"/><path d="M873.4,1260.6H910.0M891.7,1242.3V1278.9" stroke="#1010c8" stroke-width="2.7" stroke-opacity="0.9" fill="none"/>
<path d="M963.4,1212.9L997.8,1247.3M963.4,1247.3L997.8,1212.9" stroke="#1010c8" stroke-width="2.0" stroke-opacity="0.6" fill="none"/><path d="M962.3,1230.1H998.9M980.6,1211.8V1248.4" stroke="#1010c8" stroke-width="2.7" stroke-opacity="0.9" fill="none"/>
<path d="M1170.9,1162.0L1205.3,1196.4M1170.9,1196.4L1205.3,1162.0" stroke="#1010c8" stroke-width="2.0" stroke-opacity="0.6" fill="none"/><path d="M1169.8,1179.2H1206.4M1188.1,1160.9V1197.5" stroke="#1010c8" stroke-width="2.7" stroke-opacity="0.9" fill="none"/>
<path d="M1259.8,1151.8L1294.2,1186.2M1259.8,1186.2L1294.2,1151.8" stroke="#1010c8" stroke-width="2.0" stroke-opacity="0.6" fill="none"/><path d="M1258.7,1169.0H1295.3M1277.0,1150.7V1187.3" stroke="#1010c8" stroke-width="2.7" stroke-opacity="0.9" fill="none"/>
<path d="M1467.3,1157.9L1501.7,1192.3M1467.3,1192.3L1501.7,1157.9" stroke="#1010c8" stroke-width="2.0" stroke-opacity="0.6" fill="none"/><path d="M1466.2,1175.1H1502.8M1484.5,1156.8V1193.4" stroke="#1010c8" stroke-width="2.7" stroke-opacity="0.9" fill="none"/>
<path d="M1556.2,1184.4L1590.6,1218.8M1556.2,1218.8L1590.6,1184.4" stroke="#1010c8" stroke-width="2.0" stroke-opacity="0.6" fill="none"/><path d="M1555.1,1201.6H1591.7M1573.4,1183.3V1219.9" stroke="#1010c8" stroke-width="2.7" stroke-opacity="0.9" fill="none"/>
<path d="M1645.1,1221.0L1679.5,1255.4M1645.1,1255.4L1679.5,1221.0" stroke="#1010c8" stroke-width="2.0" stroke-opacity="0.6" fill="none"/><path d="M1644.0,1238.2H1680.6M1662.3,1219.9V1256.5" stroke="#1010c8" stroke-width="2.7" stroke-opacity="0.9" fill="none"/>
<path d="M1734.0,1276.0L1768.4,1310.4M1734.0,1310.4L1768.4,1276.0" stroke="#1010c8" stroke-width="2.0" stroke-opacity="0.6" fill="none"/><path d="M1732.9,1293.2H1769.5M1751.2,1274.9V1311.5" stroke="#1010c8" stroke-width="2.7" stroke-opacity="0.9" fill="none"/>
<path d="M1787.4,1292.3L1821.8,1326.7M1787.4,1326.7L1821.8,1292.3" stroke="#1010c8" stroke-width="2.0" stroke-opacity="0.6" fill="none"/><path d="M1786.3,1309.5H1822.9M1804.6,1291.2V1327.8" stroke="#1010c8" stroke-width="2.7" stroke-opacity="0.9" fill="none"/>
<path d="M1823.0,1292.3L1857.4,1326.7M1823.0,1326.7L1857.4,1292.3" stroke="#1010c8" stroke-width="2.0" stroke-opacity="0.6" fill="none"/><path d="M1821.9,1309.5H1858.5M1840.2,1291.2V1327.8" stroke="#1010c8" stroke-width="2.7" stroke-opacity="0.9" fill="none"/>
<path d="M1852.6,1292.3L1887.0,1326.7M1852.6,1326.7L1887.0,1292.3" stroke="#1010c8" stroke-width="2.0" stroke-opacity="0.6" fill="none"/><path d="M1851.5,1309.5H1888.1M1869.8,1291.2V1327.8" stroke="#1010c8" stroke-width="2.7" stroke-opacity="0.9" fill="none"/>
<path d="M1941.5,1292.3L1975.9,1326.7M1941.5,1326.7L1975.9,1292.3" stroke="#1010c8" stroke-width="2.0" stroke-opacity="0.6" fill="none"/><path d="M1940.4,1309.5H1977.0M1958.7,1291.2V1327.8" stroke="#1010c8" stroke-width="2.7" stroke-opacity="0.9" fill="none"/>
<path d="M2030.4,1292.3L2064.8,1326.7M2030.4,1326.7L2064.8,1292.3" stroke="#1010c8" stroke-width="2.0" stroke-opacity="0.6" fill="none"/><path d="M2029.3,1309.5H2065.9M2047.6,1291.2V1327.8" stroke="#1010c8" stroke-width="2.7" stroke-opacity="0.9" fill="none"/>
</g>
<g id="s-dash">
<g stroke="#ff8000" stroke-opacity="0.8" fill="none"><path d="M414.1,1422.5L572.4,1403.9" stroke-width="2.09"/><path d="M620.2,1392.1L662.6,1376.5" stroke-width="1.97"/><path d="M708.5,1358.1L870.6,1288.1" stroke-width="1.93"/><path d="M916.9,1270.9L958.7,1257.5" stroke-width="2.00"/><path d="M1006.2,1243.7L1165.8,1201.4" stroke-width="2.03"/><path d="M1214.4,1192.4L1254.1,1187.9" stroke-width="2.09"/><path d="M1303.5,1186.1L1461.5,1190.7" stroke-width="2.10"/><path d="M1510.2,1197.9L1551.1,1208.2" stroke-width="2.04"/><path d="M1597.7,1224.4L1641.2,1243.3" stroke-width="1.93"/><path d="M1685.3,1265.7L1731.3,1292.0" stroke-width="1.82"/><path d="M1776.6,1311.2L1782.6,1313.0" stroke-width="2.01"/><path d="M1896.3,1319.7L1935.7,1319.7" stroke-width="2.10"/><path d="M1985.2,1319.7L2024.6,1319.7" stroke-width="2.10"/></g>
<path d="M372.8,1425.6H402.8" stroke="#ff8000" stroke-width="2.8" stroke-opacity="0.7" fill="none"/>
<path d="M580.3,1401.2H610.3" stroke="#ff8000" stroke-width="2.8" stroke-opacity="0.7" fill="none"/>
<path d="M669.2,1368.6H699.2" stroke="#ff8000" stroke-width="2.8" stroke-opacity="0.7" fill="none"/>
<path d="M876.7,1279.0H906.7" stroke="#ff8000" stroke-width="2.8" stroke-opacity="0.7" fill="none"/>
<path d="M965.6,1250.5H995.6" stroke="#ff8000" stroke-width="2.8" stroke-opacity="0.7" fill="none"/>
<path d="M1173.1,1195.5H1203.1" stroke="#ff8000" stroke-width="2.8" stroke-opacity="0.7" fill="none"/>
<path d="M1262.0,1185.3H1292.0" stroke="#ff8000" stroke-width="2.8" stroke-opacity="0.7" fill="none"/>
<path d="M1469.5,1191.4H1499.5" stroke="#ff8000" stroke-width="2.8" stroke-opacity="0.7" fill="none"/>
<path d="M1558.4,1213.8H1588.4" stroke="#ff8000" stroke-width="2.8" stroke-opacity="0.7" fill="none"/>
<path d="M1647.3,1252.5H1677.3" stroke="#ff8000" stroke-width="2.8" stroke-opacity="0.7" fill="none"/>
<path d="M1736.2,1303.4H1766.2" stroke="#ff8000" stroke-width="2.8" stroke-opacity="0.7" fill="none"/>
<path d="M1789.6,1319.7H1819.6" stroke="#ff8000" stroke-width="2.8" stroke-opacity="0.7" fill="none"/>
<path d="M1825.2,1319.7H1855.2" stroke="#ff8000" stroke-width="2.8" stroke-opacity="0.7" fill="none"/>
<path d="M1854.8,1319.7H1884.8" stroke="#ff8000" stroke-width="2.8" stroke-opacity="0.7" fill="none"/>
<path d="M1943.7,1319.7H1973.7" stroke="#ff8000" stroke-width="2.8" stroke-opacity="0.7" fill="none"/>
<path d="M2032.6,1319.7H2062.6" stroke="#ff8000" stroke-width="2.8" stroke-opacity="0.7" fill="none"/>
</g>
<g id="s-bar">
<g stroke="#8a00e6" stroke-opacity="0.8" fill="none"><path d="M414.1,1461.5L572.4,1444.4" stroke-width="2.09"/><path d="M620.2,1432.8L662.6,1417.3" stroke-width="1.97"/><path d="M708.4,1398.4L870.7,1325.1" stroke-width="1.91"/><path d="M916.6,1306.5L959.0,1291.0" stroke-width="1.97"/><path d="M1006.2,1276.3L1165.8,1234.0" stroke-width="2.03"/><path d="M1214.4,1225.0L1254.1,1220.5" stroke-width="2.09"/><path d="M1303.5,1217.9L1461.5,1217.9" stroke-width="2.10"/><path d="M1510.2,1224.3L1551.1,1234.7" stroke-width="2.04"/><path d="M1598.1,1249.9L1640.9,1266.6" stroke-width="1.96"/><path d="M1685.3,1288.1L1731.3,1314.4" stroke-width="1.82"/><path d="M1776.7,1333.2L1782.5,1334.9" stroke-width="2.02"/><path d="M1896.3,1341.3L1935.7,1341.3" stroke-width="2.10"/><path d="M1985.2,1341.3L2024.6,1341.3" stroke-width="2.10"/></g>
<path d="M387.8,1448.8V1479.8" stroke="#8a00e6" stroke-width="2.7" stroke-opacity="0.9" fill="none"/>
<path d="M595.3,1426.4V1457.4" stroke="#8a00e6" stroke-width="2.7" stroke-opacity="0.9" fill="none"/>
<path d="M684.2,1393.9V1424.9" stroke="#8a00e6" stroke-width="2.7" stroke-opacity="0.9" fill="none"/>
<path d="M891.7,1300.1V1331.1" stroke="#8a00e6" stroke-width="2.7" stroke-opacity="0.9" fill="none"/>
<path d="M980.6,1267.6V1298.6" stroke="#8a00e6" stroke-width="2.7" stroke-opacity="0.9" fill="none"/>
<path d="M1188.1,1212.6V1243.6" stroke="#8a00e6" stroke-width="2.7" stroke-opacity="0.9" fill="none"/>
<path d="M1277.0,1202.4V1233.4" stroke="#8a00e6" stroke-width="2.7" stroke-opacity="0.9" fill="none"/>
<path d="M1484.5,1202.4V1233.4" stroke="#8a00e6" stroke-width="2.7" stroke-opacity="0.9" fill="none"/>
<path d="M1573.4,1224.8V1255.8" stroke="#8a00e6" stroke-width="2.7" stroke-opacity="0.9" fill="none"/>
<path d="M1662.3,1259.4V1290.4" stroke="#8a00e6" stroke-width="2.7" stroke-opacity="0.9" fill="none"/>
<path d="M1751.2,1310.3V1341.3" stroke="#8a00e6" stroke-width="2.7" stroke-opacity="0.9" fill="none"/>
<path d="M1804.6,1325.8V1356.8" stroke="#8a00e6" stroke-width="2.7" stroke-opacity="0.9" fill="none"/>
<path d="M1840.2,1325.8V1356.8" stroke="#8a00e6" stroke-width="2.7" stroke-opacity="0.9" fill="none"/>
<path d="M1869.8,1325.8V1356.8" stroke="#8a00e6" stroke-width="2.7" stroke-opacity="0.9" fill="none"/>
<path d="M1958.7,1325.8V1356.8" stroke="#8a00e6" stroke-width="2.7" stroke-opacity="0.9" fill="none"/>
<path d="M2047.6,1325.8V1356.8" stroke="#8a00e6" stroke-width="2.7" stroke-opacity="0.9" fill="none"/>
</g>
<g id="s-num">
<g stroke="#ee1080" stroke-opacity="0.8" fill="none"><path d="M414.2,1496.4L572.4,1480.9" stroke-width="2.09"/><path d="M619.8,1468.5L662.9,1450.7" stroke-width="1.94"/><path d="M708.4,1431.2L870.6,1359.6" stroke-width="1.92"/><path d="M916.5,1341.0L959.1,1325.0" stroke-width="1.97"/><path d="M1006.2,1309.9L1165.9,1266.7" stroke-width="2.03"/><path d="M1214.2,1256.5L1254.3,1250.0" stroke-width="2.07"/><path d="M1303.5,1246.4L1461.5,1246.4" stroke-width="2.10"/><path d="M1510.4,1251.7L1550.9,1260.1" stroke-width="2.06"/><path d="M1598.1,1274.3L1640.9,1291.0" stroke-width="1.96"/><path d="M1685.8,1311.7L1730.9,1335.5" stroke-width="1.86"/><path d="M1776.4,1354.5L1782.7,1356.5" stroke-width="2.00"/><path d="M1896.3,1363.7L1935.7,1363.7" stroke-width="2.10"/><path d="M1985.2,1363.7L2024.6,1363.7" stroke-width="2.10"/></g>
<text transform="translate(387.3,1511.6) scale(0.96,1)" text-anchor="middle" font-size="38" fill="#ee1080" stroke="#fefefe" stroke-width="0.5">2</text>
<text transform="translate(594.8,1491.2) scale(0.96,1)" text-anchor="middle" font-size="38" fill="#ee1080" stroke="#fefefe" stroke-width="0.5">3</text>
<text transform="translate(683.7,1454.5) scale(0.96,1)" text-anchor="middle" font-size="38" fill="#ee1080" stroke="#fefefe" stroke-width="0.5">4</text>
<text transform="translate(891.2,1362.9) scale(0.96,1)" text-anchor="middle" font-size="38" fill="#ee1080" stroke="#fefefe" stroke-width="0.5">5</text>
<text transform="translate(980.1,1329.5) scale(0.96,1)" text-anchor="middle" font-size="38" fill="#ee1080" stroke="#fefefe" stroke-width="0.5">6</text>
<text transform="translate(1187.6,1273.2) scale(0.96,1)" text-anchor="middle" font-size="38" fill="#ee1080" stroke="#fefefe" stroke-width="0.5">7</text>
<text transform="translate(1276.5,1259.0) scale(0.96,1)" text-anchor="middle" font-size="38" fill="#ee1080" stroke="#fefefe" stroke-width="0.5">8</text>
<text transform="translate(1484.0,1259.0) scale(0.96,1)" text-anchor="middle" font-size="38" fill="#ee1080" stroke="#fefefe" stroke-width="0.5">9</text>
<text transform="translate(1572.9,1277.3) scale(0.96,1)" text-anchor="middle" font-size="38" fill="#ee1080" stroke="#fefefe" stroke-width="0.5">10</text>
<text transform="translate(1661.8,1312.0) scale(0.96,1)" text-anchor="middle" font-size="38" fill="#ee1080" stroke="#fefefe" stroke-width="0.5">11</text>
<text transform="translate(1750.7,1358.8) scale(0.96,1)" text-anchor="middle" font-size="38" fill="#ee1080" stroke="#fefefe" stroke-width="0.5">12</text>
<text transform="translate(1804.1,1376.3) scale(0.96,1)" text-anchor="middle" font-size="38" fill="#ee1080" stroke="#fefefe" stroke-width="0.5">13</text>
<text transform="translate(1839.7,1376.3) scale(0.96,1)" text-anchor="middle" font-size="38" fill="#ee1080" stroke="#fefefe" stroke-width="0.5">14</text>
<text transform="translate(1869.3,1376.3) scale(0.96,1)" text-anchor="middle" font-size="38" fill="#ee1080" stroke="#fefefe" stroke-width="0.5">15</text>
<text transform="translate(1958.2,1376.3) scale(0.96,1)" text-anchor="middle" font-size="38" fill="#ee1080" stroke="#fefefe" stroke-width="0.5">16</text>
<text transform="translate(2047.1,1376.3) scale(0.96,1)" text-anchor="middle" font-size="38" fill="#ee1080" stroke="#fefefe" stroke-width="0.5">17</text>
</g>
</g>
<g id="labels" font-size="62.6" stroke="#fefefe" stroke-width="0.7">
<text transform="translate(472,177) scale(0.95,1)">1-6</text>
<text transform="translate(316,295.8) scale(0.95,1)">7</text>
<text transform="translate(411,352) scale(0.95,1)">8</text>
<text transform="translate(428.5,518) scale(0.95,1)">9</text>
<text transform="translate(430,853.5) scale(0.95,1)">10</text>
<text transform="translate(462.5,1015.5) scale(0.95,1)">11</text>
<text transform="translate(444.5,1194) scale(0.95,1)">12</text>
<text transform="translate(2098,1269.3) scale(0.95,1)">13</text>
<text transform="translate(287.7,1439.5) scale(0.95,1)">14</text>
<text transform="translate(288,1496.5) scale(0.95,1)">15</text>
<text transform="translate(2033,1445) scale(0.95,1)">16</text>
</g>
<g id="arrows">
<path d="M2097.0,1240.5L2081.2,1256.2" stroke="#000" stroke-width="2.8" fill="none"/><polygon points="2052.0,1285.0 2088.5,1263.6 2073.8,1248.7" fill="#000"/>
<path d="M2031.5,1434.0L1964.3,1408.5" stroke="#000" stroke-width="2.8" fill="none"/><polygon points="1926.0,1394.0 1960.6,1418.4 1968.1,1398.7" fill="#000"/>
</g>
</svg></body></html>
